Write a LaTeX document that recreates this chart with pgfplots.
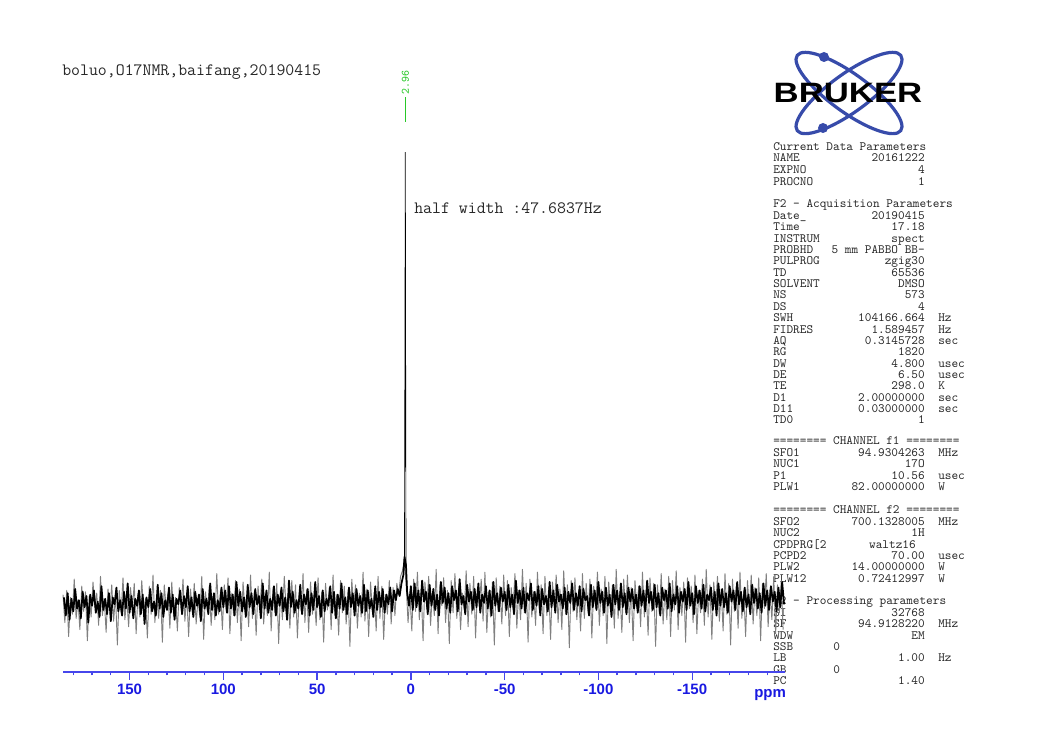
\documentclass[border=0pt]{standalone}
\usepackage{fontspec}
\usepackage{pgfplots}
\pgfplotsset{compat=1.18}
\newfontfamily\arialfont{Liberation Sans}
\definecolor{tickblue}{RGB}{25,25,225}
\definecolor{lineblue}{RGB}{70,70,235}
\definecolor{logoblue}{RGB}{55,75,170}
\definecolor{peakgreen}{RGB}{40,200,40}
\definecolor{txtgray}{RGB}{40,40,40}
\newcommand{\prm}[4]{%
  \node[anchor=base west] at (773,#1) {#2};
  \node[anchor=base east] at (925,#1) {#3};
  \node[anchor=base west] at (938,#1) {#4};}
\begin{document}
\begin{tikzpicture}
\begin{scope}[x=0.75pt,y=-0.75pt,shift={(0pt,561.75pt)},
  every node/.style={inner sep=0pt,text=txtgray,font=\ttfamily\fontsize{9.5}{11}\selectfont}]
\path[use as bounding box] (0,0) rectangle (1056,749);
% title
\node[anchor=base west,font=\ttfamily\fontsize{13}{15}\selectfont] at (62,76) {boluo,O17NMR,baifang,20190415};
\node[anchor=base west,font=\ttfamily\fontsize{13}{15}\selectfont] at (414,214) {half width :47.6837Hz};
% logo
\draw[logoblue,line width=2.4pt,rotate around={36:(849,93)}] (849,93) ellipse (64 and 19);
\draw[logoblue,line width=2.4pt,rotate around={-36:(849,93)}] (849,93) ellipse (64 and 19);
\fill[logoblue] (824,57) circle (5);
\fill[logoblue] (823,128) circle (5);
\node[anchor=base,text=black,font=\arialfont\bfseries\fontsize{21}{21}\selectfont,xscale=1.24] at (848,103) {BRUKER};
% parameters
\node[anchor=base west] at (773,151) {Current Data Parameters};
\prm{162}{NAME}{20161222}{}
\prm{174}{EXPNO}{4}{}
\prm{186}{PROCNO}{1}{}
\node[anchor=base west] at (773,208) {F2 - Acquisition Parameters};
\prm{219.4}{Date\_}{20190415}{}
\prm{230.7}{Time}{17.18}{}
\prm{242.1}{INSTRUM}{spect}{}
\prm{253.5}{PROBHD}{5 mm PABBO BB-}{}
\prm{264.9}{PULPROG}{zgig30}{}
\prm{276.2}{TD}{65536}{}
\prm{287.6}{SOLVENT}{DMSO}{}
\prm{299}{NS}{573}{}
\prm{310.3}{DS}{4}{}
\prm{321.7}{SWH}{104166.664}{Hz}
\prm{333.1}{FIDRES}{1.589457}{Hz}
\prm{344.4}{AQ}{0.3145728}{sec}
\prm{355.8}{RG}{1820}{}
\prm{367.2}{DW}{4.800}{usec}
\prm{378.6}{DE}{6.50}{usec}
\prm{389.9}{TE}{298.0}{K}
\prm{401.3}{D1}{2.00000000}{sec}
\prm{412.7}{D11}{0.03000000}{sec}
\prm{424}{TD0}{1}{}
\node[anchor=base west] at (773,445) {======== CHANNEL f1 ========};
\prm{456.4}{SFO1}{94.9304263}{MHz}
\prm{467.7}{NUC1}{17O}{}
\prm{479.1}{P1}{10.56}{usec}
\prm{490.5}{PLW1}{82.00000000}{W}
\node[anchor=base west] at (773,514) {======== CHANNEL f2 ========};
\prm{525.4}{SFO2}{700.1328005}{MHz}
\prm{536.7}{NUC2}{1H}{}
\node[anchor=base west] at (773,548.1) {CPDPRG[2};
\node[anchor=base east] at (916,548.1) {waltz16};
\prm{559.5}{PCPD2}{70.00}{usec}
\prm{570.9}{PLW2}{14.00000000}{W}
\prm{582.2}{PLW12}{0.72412997}{W}
\node[anchor=base west] at (773,605) {F2 - Processing parameters};
\prm{616.4}{SI}{32768}{}
\prm{627.7}{SF}{94.9128220}{MHz}
\prm{639.1}{WDW}{EM}{}
\node[anchor=base west] at (773,650.5) {SSB};
\node[anchor=base west] at (833,650.5) {0};
\prm{661.9}{LB}{1.00}{Hz}
\node[anchor=base west] at (773,673.2) {GB};
\node[anchor=base west] at (833,673.2) {0};
\prm{684.6}{PC}{1.40}{}
% ppm label
\node[anchor=base west,text=tickblue,font=\arialfont\bfseries\fontsize{11.25}{12}\selectfont] at (754,698) {ppm};
\end{scope}
\begin{axis}[at={(47.25pt,57.75pt)},anchor=south west,scale only axis,
  width=541.5pt,height=429pt,
  xmin=-199.5,xmax=185.5,x dir=reverse,ymin=-49.3,ymax=359.3,
  axis x line*=bottom,axis y line=none,clip=false,
  axis line style={lineblue,line width=1pt},
  xtick={150,100,50,0,-50,-100,-150},
  xticklabels={150,100,50,0,-50,-100,-150},
  minor xtick={180,170,...,-190},
  tick align=outside,
  major tick length=5.75pt,minor tick length=2.6pt,
  every tick/.style={lineblue,line width=1pt},
  xticklabel style={text=tickblue,font=\arialfont\bfseries\fontsize{11.25}{12}\selectfont},
]
\addplot[black!50,line width=0.7pt,line join=round] coordinates {
(185.5,6)(184.5,-14)(183.5,9)(182.5,-24)(181.5,4)(180.5,-8)(179.5,17)(178.5,-11)(177.5,2)(176.5,-19)
(175.5,12)(174.5,-6)(173.5,8)(172.5,-27)(171.5,5)(170.5,-10)(169.5,15)(168.5,-3)(167.5,7)(166.5,-16)
(165.5,19)(164.5,-9)(163.5,3)(162.5,-21)(161.5,10)(160.5,-5)(159.5,13)(158.5,-13)(157.5,6)(156.5,-30)
(155.5,9)(154.5,-7)(153.5,18)(152.5,-12)(151.5,4)(150.5,-17)(149.5,11)(148.5,-4)(147.5,14)(146.5,-22)
(145.5,7)(144.5,-10)(143.5,16)(142.5,-6)(141.5,3)(140.5,-25)(139.5,12)(138.5,-8)(137.5,20)(136.5,-14)
(135.5,5)(134.5,-11)(133.5,9)(132.5,-28)(131.5,13)(130.5,-3)(129.5,7)(128.5,-18)(127.5,15)(126.5,-9)
(125.5,4)(124.5,-20)(123.5,11)(122.5,-5)(121.5,17)(120.5,-13)(119.5,6)(118.5,-24)(117.5,10)(116.5,-7)
(115.5,14)(114.5,-15)(113.5,3)(112.5,-10)(111.5,19)(110.5,-26)(109.5,8)(108.5,-6)(107.5,12)(106.5,-16)
(105.5,5)(104.5,-12)(103.5,21)(102.5,-8)(101.5,9)(100.5,-19)
(99.5,13)(98.5,-6)(97.5,18)(96.5,-22)(95.5,7)(94.5,-9)(93.5,16)(92.5,-14)(91.5,10)(90.5,-27)
(89.5,15)(88.5,-4)(87.5,6)(86.5,-17)(85.5,20)(84.5,-11)(83.5,8)(82.5,-23)(81.5,12)(80.5,-5)
(79.5,17)(78.5,-15)(77.5,4)(76.5,-9)(75.5,22)(74.5,-20)(73.5,11)(72.5,-7)(71.5,14)(70.5,-29)
(69.5,9)(68.5,-12)(67.5,19)(66.5,-4)(65.5,6)(64.5,-18)(63.5,16)(62.5,-10)(61.5,13)(60.5,-25)
(59.5,7)(58.5,-6)(57.5,21)(56.5,-14)(55.5,10)(54.5,-21)(53.5,15)(52.5,-8)(51.5,5)(50.5,-16)
(49.5,18)(48.5,-12)(47.5,8)(46.5,-28)(45.5,14)(44.5,-5)(43.5,11)(42.5,-19)(41.5,20)(40.5,-9)
(39.5,6)(38.5,-23)(37.5,16)(36.5,-7)(35.5,12)(34.5,-15)(33.5,9)(32.5,-31)(31.5,17)(30.5,-4)
(29.5,13)(28.5,-18)(27.5,7)(26.5,-10)(25.5,22)(24.5,-13)(23.5,10)(22.5,-24)(21.5,15)(20.5,-6)
(19.5,8)(18.5,-20)(17.5,19)(16.5,-11)(15.5,12)(14.5,-26)(13.5,6)(12.5,-8)(11.5,16)(10.5,-15)
(9.5,11)(8.5,-9)(7.5,14)(6.5,6)(5.5,19)(4.5,23)(3.5,30)(2.5,13)(1.5,-14)(0.5,6)
(-0.5,-20)(-1.5,17)(-2.5,-6)(-3.5,22)(-4.5,-12)(-5.5,10)(-6.5,-27)(-7.5,15)(-8.5,-4)(-9.5,19)
(-10.5,-16)(-11.5,8)(-12.5,-9)(-13.5,24)(-14.5,-22)(-15.5,13)(-16.5,-2)(-17.5,18)(-18.5,-14)(-19.5,9)
(-20.5,-29)(-21.5,16)(-22.5,-7)(-23.5,21)(-24.5,-11)(-25.5,12)(-26.5,-19)(-27.5,7)(-28.5,-5)(-29.5,23)
(-30.5,-17)(-31.5,14)(-32.5,-8)(-33.5,19)(-34.5,-25)(-35.5,10)(-36.5,-3)(-37.5,17)(-38.5,-13)(-39.5,22)
(-40.5,-21)(-41.5,8)(-42.5,-10)(-43.5,15)(-44.5,-30)(-45.5,18)(-46.5,-6)(-47.5,12)(-48.5,-15)(-49.5,20)
(-50.5,-9)(-51.5,16)(-52.5,-24)(-53.5,11)(-54.5,-4)(-55.5,21)(-56.5,-18)(-57.5,9)(-58.5,-12)(-59.5,24)
(-60.5,-7)(-61.5,14)(-62.5,-28)(-63.5,17)(-64.5,-10)(-65.5,8)(-66.5,-16)(-67.5,22)(-68.5,-5)(-69.5,13)
(-70.5,-22)(-71.5,19)(-72.5,-9)(-73.5,11)(-74.5,-26)(-75.5,15)(-76.5,-3)(-77.5,20)(-78.5,-14)(-79.5,10)
(-80.5,-19)(-81.5,23)(-82.5,-8)(-83.5,13)(-84.5,-32)(-85.5,16)(-86.5,-6)(-87.5,18)(-88.5,-12)(-89.5,9)
(-90.5,-20)(-91.5,21)(-92.5,-11)(-93.5,14)(-94.5,-7)(-95.5,17)(-96.5,-25)(-97.5,12)(-98.5,-4)(-99.5,22)
(-100.5,-16)(-101.5,10)(-102.5,-9)(-103.5,19)(-104.5,-29)(-105.5,15)(-106.5,-5)(-107.5,13)(-108.5,-18)(-109.5,24)
(-110.5,-11)(-111.5,8)(-112.5,-21)(-113.5,17)(-114.5,-7)(-115.5,20)(-116.5,-14)(-117.5,11)(-118.5,-27)(-119.5,16)
(-120.5,-3)(-121.5,12)(-122.5,-17)(-123.5,22)(-124.5,-10)(-125.5,9)(-126.5,-23)(-127.5,18)(-128.5,-6)(-129.5,14)
(-130.5,-31)(-131.5,13)(-132.5,-8)(-133.5,21)(-134.5,-15)(-135.5,10)(-136.5,-12)(-137.5,19)(-138.5,-24)(-139.5,16)
(-140.5,-5)(-141.5,23)(-142.5,-19)(-143.5,11)(-144.5,-9)(-145.5,15)(-146.5,-28)(-147.5,18)(-148.5,-4)(-149.5,12)
(-150.5,-14)(-151.5,20)(-152.5,-22)(-153.5,9)(-154.5,-7)(-155.5,17)(-156.5,-16)(-157.5,24)(-158.5,-10)(-159.5,13)
(-160.5,-26)(-161.5,15)(-162.5,-3)(-163.5,19)(-164.5,-13)(-165.5,10)(-166.5,-20)(-167.5,21)(-168.5,-8)(-169.5,14)
(-170.5,-30)(-171.5,17)(-172.5,-6)(-173.5,12)(-174.5,-18)(-175.5,22)(-176.5,-11)(-177.5,9)(-178.5,-24)(-179.5,16)
(-180.5,-5)(-181.5,20)(-182.5,-15)(-183.5,11)(-184.5,-9)(-185.5,18)(-186.5,-27)(-187.5,14)(-188.5,-4)(-189.5,21)
(-190.5,-17)(-191.5,10)(-192.5,-12)(-193.5,19)(-194.5,-22)(-195.5,13)(-196.5,-7)(-197.5,16)(-198.5,-19)
};
\addplot[black,line width=1.3pt,line join=round] coordinates {
(185,4)(184,-9)(183,7)(182,-12)(181,3)(180,-6)(179,10)(178,-4)(177,2)(176,-11)
(175,8)(174,-3)(173,5)(172,-14)(171,6)(170,-2)(169,9)(168,-7)(167,1)(166,-10)
(165,12)(164,-5)(163,3)(162,-8)(161,7)(160,-13)(159,4)(158,-1)(157,11)(156,-6)
(155,2)(154,-9)(153,8)(152,-4)(151,14)(150,-7)(149,5)(148,-11)(147,3)(146,-2)
(145,9)(144,-8)(143,6)(142,-15)(141,4)(140,-3)(139,10)(138,-6)(137,1)(136,-9)
(135,13)(134,-4)(133,7)(132,-10)(131,2)(130,-5)(129,11)(128,-7)(127,6)(126,-12)
(125,3)(124,-1)(123,9)(122,-8)(121,5)(120,-3)(119,12)(118,-6)(117,4)(116,-10)
(115,8)(114,-2)(113,6)(112,-13)(111,10)(110,-4)(109,3)(108,-8)(107,14)(106,-5)
(105,7)(104,-9)(103,2)(102,-6)(101,11)(100,-3)
(99,9)(98,-7)(97,12)(96,-4)(95,6)(94,-9)(93,15)(92,-2)(91,8)(90,-6)
(89,4)(88,-10)(87,13)(86,-3)(85,7)(84,-8)(83,10)(82,-1)(81,5)(80,-11)
(79,14)(78,-4)(77,9)(76,-7)(75,3)(74,-5)(73,12)(72,-9)(71,6)(70,-2)
(69,11)(68,-6)(67,4)(66,-12)(65,16)(64,-3)(63,8)(62,-7)(61,2)(60,-4)
(59,13)(58,-8)(57,6)(56,-1)(55,10)(54,-9)(53,7)(52,-5)(51,15)(50,-3)
(49,5)(48,-10)(47,9)(46,-6)(45,3)(44,-2)(43,12)(42,-7)(41,8)(40,-11)
(39,6)(38,-4)(37,14)(36,-5)(35,4)(34,-8)(33,11)(32,-3)(31,7)(30,-9)
(29,10)(28,-2)(27,5)(26,-7)(25,13)(24,-6)(23,9)(22,-4)(21,3)(20,-10)
(19,12)(18,-5)(17,8)(16,-3)(15,10)(14,-7)(13,6)(12,-1)(11,11)(10,-6)
(9,9)(8,2)(7,10)(6,5)(5,14)(4,20)(3.4,33)(2.6,27)(2,8)(1,-2)
(0,12)(-1,-5)(-2,14)(-3,-3)(-4,9)(-5,-6)(-6,16)(-7,1)(-8,8)(-9,-8)
(-10,13)(-11,-2)(-12,10)(-13,-5)(-14,6)(-15,-9)(-16,15)(-17,0)(-18,11)(-19,-4)
(-20,7)(-21,-7)(-22,12)(-23,2)(-24,9)(-25,-6)(-26,17)(-27,-1)(-28,5)(-29,-8)
(-30,13)(-31,1)(-32,8)(-33,-5)(-34,10)(-35,-3)(-36,14)(-37,-7)(-38,6)(-39,0)
(-40,12)(-41,-4)(-42,9)(-43,-9)(-44,15)(-45,-2)(-46,7)(-47,-6)(-48,11)(-49,1)
(-50,8)(-51,-5)(-52,13)(-53,-3)(-54,6)(-55,-8)(-56,16)(-57,0)(-58,9)(-59,-4)
(-60,11)(-61,-7)(-62,7)(-63,2)(-64,14)(-65,-5)(-66,8)(-67,-2)(-68,12)(-69,-9)
(-70,10)(-71,-1)(-72,5)(-73,-6)(-74,15)(-75,-3)(-76,9)(-77,-7)(-78,13)(-79,1)
(-80,6)(-81,-4)(-82,11)(-83,-8)(-84,8)(-85,0)(-86,14)(-87,-5)(-88,7)(-89,-2)
(-90,12)(-91,-6)(-92,10)(-93,2)(-94,5)(-95,-9)(-96,13)(-97,-3)(-98,9)(-99,-5)
(-100,15)(-101,0)(-102,8)(-103,-7)(-104,11)(-105,-2)(-106,6)(-107,-10)(-108,13)(-109,-1)
(-110,9)(-111,-5)(-112,14)(-113,-3)(-114,7)(-115,-8)(-116,11)(-117,1)(-118,10)(-119,-4)
(-120,6)(-121,-7)(-122,12)(-123,-2)(-124,9)(-125,-6)(-126,16)(-127,0)(-128,8)(-129,-5)
(-130,13)(-131,-3)(-132,7)(-133,-9)(-134,11)(-135,2)(-136,9)(-137,-4)(-138,14)(-139,-6)
(-140,6)(-141,-1)(-142,12)(-143,-7)(-144,8)(-145,1)(-146,10)(-147,-5)(-148,15)(-149,-2)
(-150,7)(-151,-8)(-152,12)(-153,0)(-154,9)(-155,-4)(-156,13)(-157,-6)(-158,6)(-159,2)
(-160,11)(-161,-5)(-162,8)(-163,-9)(-164,14)(-165,-2)(-166,10)(-167,-3)(-168,7)(-169,-7)
(-170,12)(-171,1)(-172,9)(-173,-5)(-174,15)(-175,-1)(-176,8)(-177,-6)(-178,11)(-179,-3)
(-180,6)(-181,-8)(-182,13)(-183,0)(-184,10)(-185,-4)(-186,7)(-187,-7)(-188,14)(-189,-2)
(-190,9)(-191,-5)(-192,12)(-193,1)(-194,8)(-195,-6)(-196,11)(-197,-3)(-198,15)(-199,-1)
};
\addplot[black,line width=0.5pt] coordinates {(4,20)(3.4,33)(2.96,322)(2.6,27)(2,8)};
\draw[peakgreen,line width=0.8pt] (axis cs:2.96,343.6) -- (axis cs:2.96,361.4);
\node[rotate=90,anchor=west,inner sep=0pt,text=peakgreen,font=\ttfamily\fontsize{8.5}{10}\selectfont] at (axis cs:2.96,363) {2.96};
\end{axis}
\end{tikzpicture}
\end{document}
